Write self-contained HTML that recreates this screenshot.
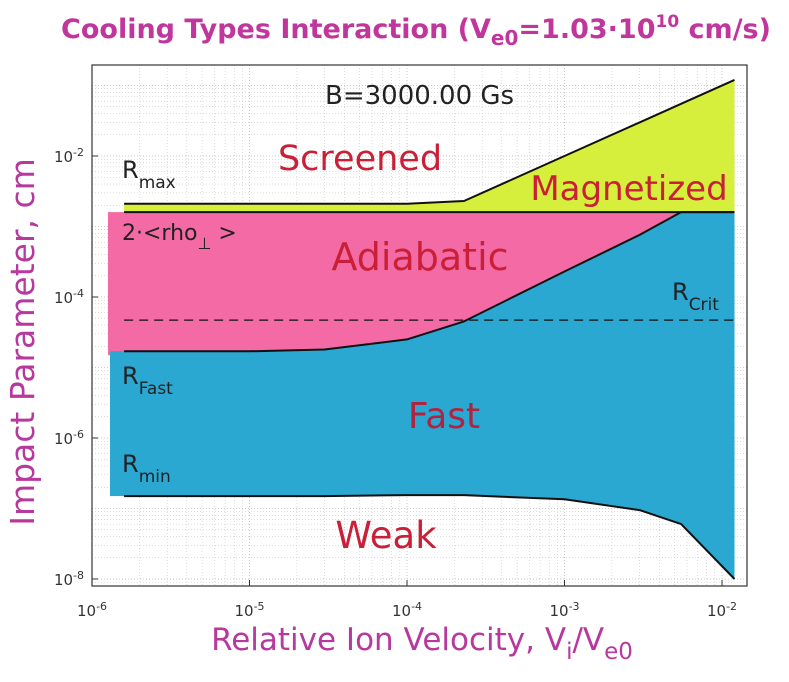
<!DOCTYPE html>
<html><head><meta charset="utf-8"><style>
body{margin:0;background:#fff;width:789px;height:677px;overflow:hidden;font-family:"Liberation Sans","DejaVu Sans",sans-serif}
</style></head><body>
<svg id="c" width="789" height="677" xmlns="http://www.w3.org/2000/svg" style="font-family:'DejaVu Sans','Liberation Sans',sans-serif"></svg>
<script>
const xTickExps=[-6,-5,-4,-3,-2];
const yTickExps=[-8,-6,-4,-2];
const vel=[1.6e-6,1e-5,3e-5,1e-4,2.3e-4,1e-3,3e-3,5.5e-3,1.2e-2];
const rMax=[2.1e-3,2.1e-3,2.1e-3,2.1e-3,2.3e-3,1e-2,3e-2,5.5e-2,0.12];
const rho2=[1.6e-3,1.6e-3,1.6e-3,1.6e-3,1.6e-3,1.6e-3,1.6e-3,1.6e-3,1.6e-3];
const rFast=[1.7e-5,1.7e-5,1.8e-5,2.5e-5,4.5e-5,2.3e-4,7.6e-4,1.6e-3,1.6e-3];
const rMin=[1.5e-7,1.5e-7,1.5e-7,1.55e-7,1.55e-7,1.35e-7,9.5e-8,6e-8,1e-8];
const rCrit=4.7e-5;
const L=92,R=747,T=65,B=586,X0=-6,XD=157.5,Y0=-2,YP=156,YD=70.5;
const sx=v=>L+(Math.log10(v)-X0)*XD, sy=v=>YP-(Math.log10(v)-Y0)*YD;
const S=document.getElementById('c'),NS='http://www.w3.org/2000/svg';
function mk(t,a,txt){const e=document.createElementNS(NS,t);for(const k in a)e.setAttribute(k,a[k]);if(txt!=null)e.textContent=txt;S.appendChild(e);return e;}
function pts(xs,ys){return xs.map((x,i)=>sx(x).toFixed(1)+','+sy(ys[i]).toFixed(1));}
// grid
for(let e=-6;e<=-2;e++)for(let m=1;m<10;m++){const x=L+(e-X0+Math.log10(m))*XD;if(x>R)break;const g=mk('line',{x1:x,x2:x,y1:T,y2:B,stroke:'#bbb','stroke-width':m==1?0.8:0.5,'stroke-dasharray':'1,2'});}
for(let e=-9;e<=0;e++)for(let m=1;m<10;m++){const y=YP-(e-Y0+Math.log10(m))*YD;if(y<T||y>B)continue;const g=mk('line',{x1:L,x2:R,y1:y,y2:y,stroke:'#bbb','stroke-width':m==1?0.8:0.5,'stroke-dasharray':'1,2'});}
// fills
const rv=[...vel].reverse();
let p=mk('polygon',{points:pts(vel,rMax).concat(pts(rv,[...rho2].reverse())).join(' '),fill:'#d6ef3c'});

p=mk('rect',{x:108,y:sy(rho2[0]),width:sx(vel[0])-108+1,height:sy(rFast[0])-sy(rho2[0])+4,fill:'#f46aa4'});

p=mk('polygon',{points:pts(vel,rho2).concat(pts(rv,[...rFast].reverse())).join(' '),fill:'#f46aa4'});

p=mk('rect',{x:110,y:sy(rFast[0]),width:sx(vel[0])-110+1,height:sy(rMin[0])-sy(rFast[0]),fill:'#2aa8d2'});

p=mk('polygon',{points:pts(vel,rFast).concat(pts(rv,[...rMin].reverse())).join(' '),fill:'#2aa8d2'});

// lines
function line(ys,name,dash){const l=mk('polyline',{points:pts(vel,ys).join(' '),fill:'none',stroke:'#111','stroke-width':2,'stroke-linejoin':'round'});if(dash)l.setAttribute('stroke-dasharray',dash);}
line(rMax,'r-max-line');line(rho2,'rho-line');line(rFast,'r-fast-line');line(rMin,'r-min-line');
const dl=mk('line',{x1:sx(vel[0]),x2:sx(vel[vel.length-1]),y1:sy(rCrit),y2:sy(rCrit),stroke:'#111','stroke-width':1.3,'stroke-dasharray':'9,6'});

// frame & ticks
const fr=mk('rect',{x:L,y:T,width:R-L,height:B-T,fill:'none',stroke:'#333','stroke-width':1.2});

xTickExps.forEach(e=>{const x=L+(e-X0)*XD;mk('line',{x1:x,x2:x,y1:B,y2:B-6,stroke:'#333'});
 const t=mk('text',{x:x,y:B+30,'text-anchor':'middle','font-size':15,fill:'#333'});t.innerHTML='10<tspan dy="-6" font-size="11">'+(e<0?'-':'')+Math.abs(e)+'</tspan>';
 });
yTickExps.forEach(e=>{const y=YP-(e-Y0)*YD;mk('line',{x1:L,x2:L+6,y1:y,y2:y,stroke:'#333'});
 const t=mk('text',{x:L-8,y:y+6,'text-anchor':'end','font-size':15,fill:'#333'});t.innerHTML='10<tspan dy="-6" font-size="11">'+(e<0?'-':'')+Math.abs(e)+'</tspan>';
 });
// texts
function txt(x,y,html,size,fill,name,extra){const t=mk('text',Object.assign({x:x,y:y,'font-size':size,fill:fill},extra||{}));t.innerHTML=html;return t;}
txt(416,38,'Cooling Types Interaction (V<tspan dy="7" font-size="20">e0</tspan><tspan dy="-7">=1.03·10</tspan><tspan dy="-11" font-size="17">10</tspan><tspan dy="11"> cm/s)</tspan>',27,'#c0369c','chart-title',{'text-anchor':'middle','font-weight':'bold'});
txt(422,650,'Relative Ion Velocity, V<tspan dy="9" font-size="23">i</tspan><tspan dy="-9">/V</tspan><tspan dy="9" font-size="23">e0</tspan>',31,'#b8399e','x-axis-title',{'text-anchor':'middle'});
txt(34,342,'Impact Parameter, cm',33,'#b8399e','y-axis-title',{'text-anchor':'middle',transform:'rotate(-90 34 342)'});
txt(325,104,'B=3000.00 Gs',26,'#222','field-label');
txt(360,170,'Screened',35,'#c92038','screened-label',{'text-anchor':'middle'});
txt(629,200,'Magnetized',34,'#c92038','magnetized-label',{'text-anchor':'middle'});
txt(420,270,'Adiabatic',38,'#c92038','adiabatic-label',{'text-anchor':'middle'});
txt(444,428,'Fast',36,'#b02440','fast-label',{'text-anchor':'middle'});
txt(386,548,'Weak',37,'#c92038','weak-label',{'text-anchor':'middle'});
txt(122,178,'R<tspan dy="10" font-size="17">max</tspan>',24,'#222','r-max-label');
txt(122,240,'2·&lt;rho<tspan dy="9" font-size="16">⊥</tspan><tspan dy="-9"> &gt;</tspan>',22,'#222','rho-label');
txt(672,300,'R<tspan dy="10" font-size="17">Crit</tspan>',24,'#222','r-crit-label');
txt(122,384,'R<tspan dy="10" font-size="17">Fast</tspan>',24,'#222','r-fast-label');
txt(122,472,'R<tspan dy="10" font-size="17">min</tspan>',24,'#222','r-min-label');
</script>
</body></html>
